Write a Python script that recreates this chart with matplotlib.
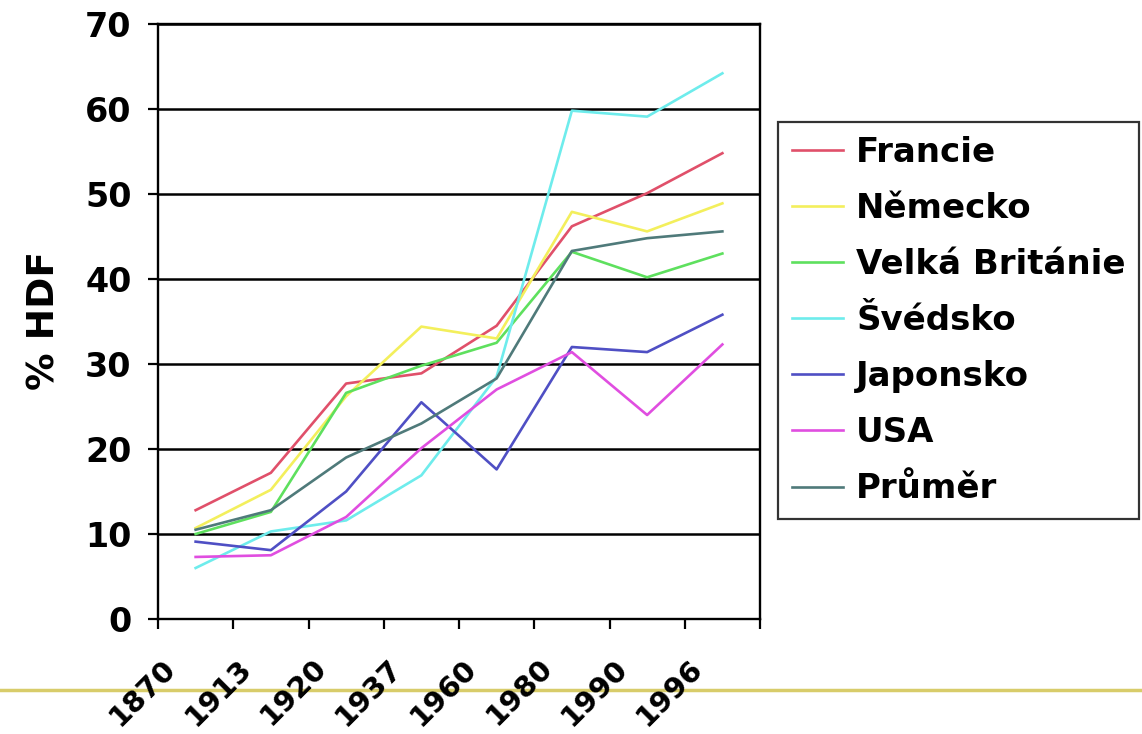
import matplotlib.pyplot as plt
import matplotlib.transforms as mtransforms
import numpy as np

years = ['1870', '1913', '1920', '1937', '1960', '1980', '1990', '1996']
francie = [12.8, 17.2, 27.7, 28.9, 34.5, 46.2, 50.1, 54.8]
nemecko = [10.7, 15.2, 26.2, 34.4, 33.0, 47.9, 45.6, 48.9]
britanie = [10.0, 12.6, 26.6, 29.8, 32.5, 43.2, 40.2, 43.0]
svedsko = [6.0, 10.3, 11.6, 16.9, 28.5, 59.8, 59.1, 64.2]
japonsko = [9.1, 8.1, 15.0, 25.5, 17.6, 32.0, 31.4, 35.8]
usa = [7.3, 7.5, 12.0, 20.1, 27.0, 31.4, 24.0, 32.3]
prumer = [10.5, 12.8, 19.0, 23.0, 28.3, 43.3, 44.8, 45.6]

series = [
    ('Francie', francie, '#e0506a'),
    ('Německo', nemecko, '#f3ef5c'),
    ('Velká Británie', britanie, '#5ee05e'),
    ('Švédsko', svedsko, '#6eecec'),
    ('Japonsko', japonsko, '#4f4fc4'),
    ('USA', usa, '#e04ee0'),
    ('Průměr', prumer, '#4f7a7a'),
]

plt.rcParams['font.family'] = ['DejaVu Sans']
plt.rcParams['font.weight'] = 'bold'

fig = plt.figure(figsize=(11.42, 7.34), dpi=100)
ax = fig.add_axes([158 / 1142, 1 - 619 / 734, (760 - 158) / 1142, (619 - 24) / 734])

x = np.arange(len(years))
for name, vals, col in series:
    ax.plot(x, vals, color=col, lw=1.9, label=name, zorder=3)

ax.set_xlim(-0.5, len(years) - 0.5)
ax.set_ylim(0, 70)
ax.set_yticks(np.arange(0, 71, 10))
ax.yaxis.grid(True, color='black', lw=1.8)
ax.set_axisbelow(True)

for s in ax.spines.values():
    s.set_color('black')
    s.set_linewidth(1.7)

ax.tick_params(axis='y', length=7, width=1.6, pad=12, labelsize=24)
# category labels at centres, tick marks between categories
ax.set_xticks(x)
ax.set_xticks(np.arange(-0.5, len(years), 1.0), minor=True)
ax.tick_params(axis='x', which='major', length=0, pad=25)
ax.tick_params(axis='x', which='minor', length=7, width=1.6)
ax.set_xticklabels(years, rotation=45, ha='right', fontsize=21)
offset = mtransforms.ScaledTranslation(-14 / 100, 0, fig.dpi_scale_trans)
for lbl in ax.get_xticklabels():
    lbl.set_transform(lbl.get_transform() + offset)

fig.text(45 / 1142, 1 - 320 / 734, '% HDF', rotation=90, fontsize=27,
         fontweight='bold', ha='center', va='center')

leg = fig.legend(loc='upper left', bbox_to_anchor=(778 / 1142, 1 - 122 / 734),
                 fontsize=24.5, frameon=True, fancybox=False, edgecolor='black',
                 handlelength=1.5, handletextpad=0.4, labelspacing=0.68,
                 borderaxespad=0, borderpad=0.4)
leg.get_frame().set_linewidth(1.6)

# slide decoration line
fig.add_artist(plt.Line2D([0, 1], [1 - 690 / 734] * 2, color='#d8cc6a', lw=2.5,
                          transform=fig.transFigure, zorder=0))

fig.savefig('out.png', dpi=100)
